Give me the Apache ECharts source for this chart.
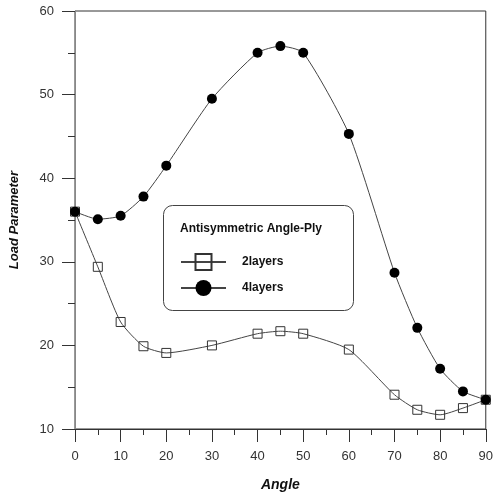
<!DOCTYPE html>
<html>
<head>
<meta charset="utf-8">
<script src="https://cdn.jsdelivr.net/npm/echarts@6/dist/echarts.min.js"></script>
<style>
  html, body { margin: 0; padding: 0; background: #fff; }
  #chart { width: 496px; height: 497px; }
</style>
</head>
<body>
<div id="chart"></div>
<script>
// angles (deg)
var angles = [0, 5, 10, 15, 20, 30, 40, 45, 50, 60, 70, 75, 80, 85, 90];
// load parameter, 2 layers
var layers2 = [36.0, 29.4, 22.8, 19.9, 19.1, 20.0, 21.4, 21.7, 21.4, 19.5, 14.1, 12.3, 11.7, 12.5, 13.5];
// load parameter, 4 layers
var layers4 = [36.0, 35.1, 35.5, 37.8, 41.5, 49.5, 55.0, 55.8, 55.0, 45.3, 28.7, 22.1, 17.2, 14.5, 13.5];

var seriesNames = ['2layers', '4layers'];
var legendTitle = 'Antisymmetric Angle-Ply';

function pairs(vals) {
    return angles.map(function (a, i) { return [a, vals[i]]; });
}

var myChart = echarts.init(document.getElementById('chart'));

var option = {
    animation: false,
    textStyle: { fontFamily: 'Liberation Sans, Arial, sans-serif' },
    grid: {
        left: 74, right: 8, top: 11, bottom: 67,
        show: true, borderColor: '#333', borderWidth: 1
    },
    xAxis: {
        type: 'value', min: 0, max: 90, interval: 10,
        name: 'Angle', nameLocation: 'middle', nameGap: 49,
        nameTextStyle: { fontSize: 14, fontWeight: 'bold', fontStyle: 'italic', color: '#111', letterSpacing: 1 },
        axisLine: { show: true, lineStyle: { color: '#333', width: 1 } },
        axisTick: { show: true, length: 13, lineStyle: { color: '#333' } },
        minorTick: { show: true, splitNumber: 2, length: 6, lineStyle: { color: '#333' } },
        axisLabel: { margin: 21, fontSize: 13, color: '#333' },
        splitLine: { show: false }
    },
    yAxis: {
        type: 'value', min: 10, max: 60, interval: 10,
        name: 'Load Parameter', nameLocation: 'middle', nameGap: 54,
        nameTextStyle: { fontSize: 13, fontWeight: 'bold', fontStyle: 'italic', color: '#111', letterSpacing: 0.5 },
        axisLine: { show: true, lineStyle: { color: '#888', width: 1 } },
        axisTick: { show: true, length: 13, lineStyle: { color: '#333' } },
        minorTick: { show: true, splitNumber: 2, length: 7, lineStyle: { color: '#333' } },
        axisLabel: { margin: 21, fontSize: 13, color: '#333' },
        splitLine: { show: false }
    },
    legend: {
        orient: 'vertical',
        left: 180, top: 253, padding: 0,
        itemWidth: 45, itemHeight: 20, itemGap: 9,
        data: seriesNames,
        textStyle: { fontSize: 12, fontWeight: 'bold', color: '#111', letterSpacing: 0.5, padding: [0, 0, 0, 11] }
    },
    graphic: [
        {
            type: 'rect', z: 0,
            shape: { x: 163.5, y: 205.5, width: 190, height: 105, r: 9 },
            style: { fill: '#fff', stroke: '#444', lineWidth: 1 }
        },
        {
            type: 'text', z: 1,
            left: 180, top: 223,
            style: { text: legendTitle, font: 'bold 12px "Liberation Sans", Arial, sans-serif', fill: '#111', letterSpacing: 0.6 }
        }
    ],
    series: [
        {
            name: seriesNames[0], type: 'line', smooth: 0.2,
            data: pairs(layers2),
            symbol: 'rect', symbolSize: 9,
            lineStyle: { color: '#444', width: 1 },
            itemStyle: { color: 'rgba(0,0,0,0)', borderColor: '#333', borderWidth: 1 }
        },
        {
            name: seriesNames[1], type: 'line', smooth: 0.2,
            data: pairs(layers4),
            symbol: 'circle', symbolSize: 10,
            lineStyle: { color: '#444', width: 1 },
            itemStyle: { color: '#000', borderColor: '#000', borderWidth: 0 }
        }
    ]
};

myChart.setOption(option);
</script>
</body>
</html>
